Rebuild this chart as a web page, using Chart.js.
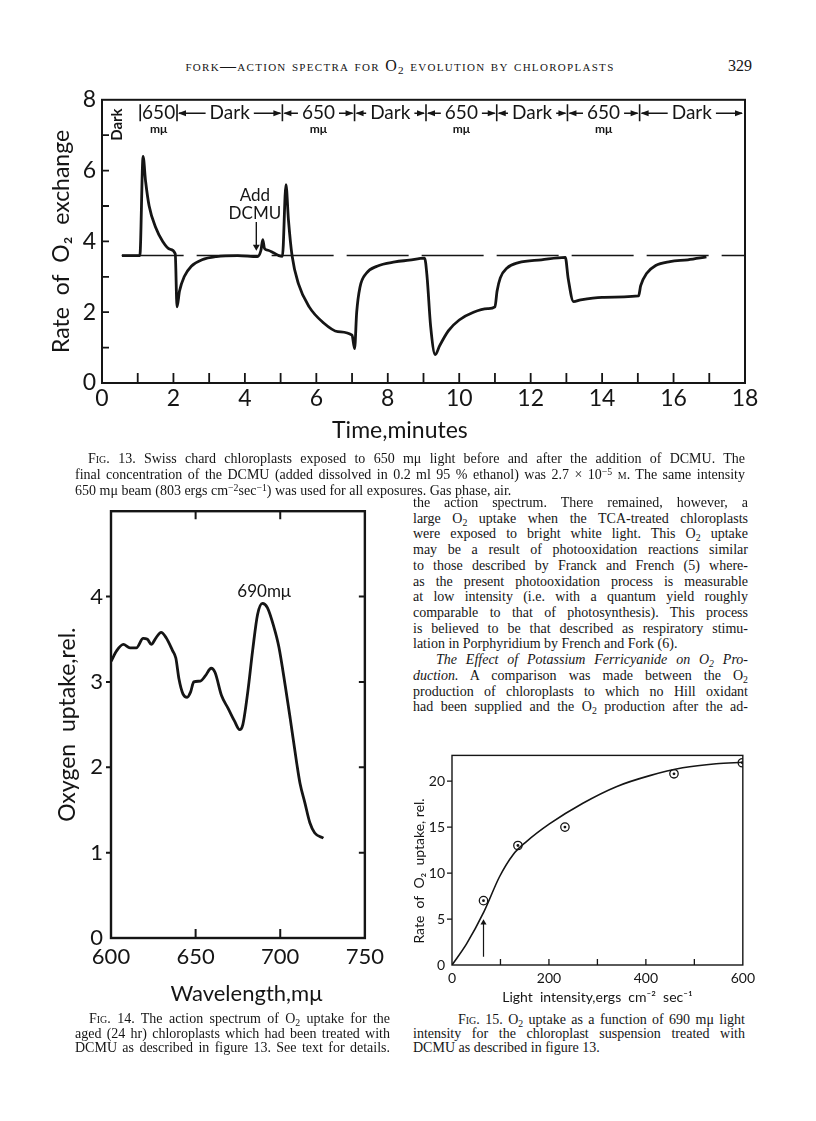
<!DOCTYPE html>
<html>
<head>
<meta charset="utf-8">
<script src="https://cdn.jsdelivr.net/npm/chart.js@4.4.1/dist/chart.umd.min.js"></script>
<style>
  body { margin: 0; background: #fff; }
  #page { position: relative; width: 816px; height: 1121px; overflow: hidden; color: #151515; }
  canvas { position: absolute; }
  .t { position: absolute; font-family: "Liberation Serif", "DejaVu Serif", serif; font-size: 14px; line-height: 16px; white-space: nowrap; }
  .j { text-align: justify; text-align-last: justify; white-space: normal; }
  .sc { font-variant: small-caps; }
  sub { font-size: 70%; vertical-align: -0.3em; line-height: 0; }
  sup { font-size: 70%; vertical-align: 0.45em; line-height: 0; }
</style>
</head>
<body>
<div id="page">
  <div class="t sc" style="left:100px;width:600px;top:58px;text-align:center;font-size:16px;letter-spacing:1.3px;">fork—action spectra for O<sub>2</sub> evolution by chloroplasts</div>
  <div class="t" style="left:700px;width:52px;top:58px;text-align:right;font-size:16px;">329</div>

  <canvas id="fig13" width="745" height="375" style="left:30px;top:80px;"></canvas>

  <div class="t j" style="left:88px;width:657px;top:451px;"><span class="sc">Fig.</span> 13. Swiss chard chloroplasts exposed to 650 mμ light before and after the addition of DCMU. The</div>
  <div class="t j" style="left:75px;width:670px;top:467px;">final concentration of the DCMU (added dissolved in 0.2 ml 95 % ethanol) was 2.7 × 10<sup>−5</sup> <span class="sc">m</span>. The same intensity</div>
  <div class="t" style="left:75px;top:483px;">650 mμ beam (803 ergs cm<sup>−2</sup>sec<sup>−1</sup>) was used for all exposures. Gas phase, air.</div>

  <canvas id="fig14" width="350" height="520" style="left:40px;top:490px;"></canvas>

  <div class="t j" style="left:89px;width:301px;top:1011px;"><span class="sc">Fig.</span> 14. The action spectrum of O<sub>2</sub> uptake for the</div>
  <div class="t j" style="left:75px;width:315px;top:1026px;">aged (24 hr) chloroplasts which had been treated with</div>
  <div class="t j" style="left:75px;width:315px;top:1040px;">DCMU as described in figure 13. See text for details.</div>

  <div class="t j" style="left:413px;width:335px;top:495px;">the action spectrum. There remained, however, a</div>
  <div class="t j" style="left:413px;width:335px;top:511px;">large O<sub>2</sub> uptake when the TCA-treated chloroplasts</div>
  <div class="t j" style="left:413px;width:335px;top:526px;">were exposed to bright white light. This O<sub>2</sub> uptake</div>
  <div class="t j" style="left:413px;width:335px;top:542px;">may be a result of photooxidation reactions similar</div>
  <div class="t j" style="left:413px;width:335px;top:558px;">to those described by Franck and French (5) where-</div>
  <div class="t j" style="left:413px;width:335px;top:574px;">as the present photooxidation process is measurable</div>
  <div class="t j" style="left:413px;width:335px;top:589px;">at low intensity (i.e. with a quantum yield roughly</div>
  <div class="t j" style="left:413px;width:335px;top:605px;">comparable to that of photosynthesis). This process</div>
  <div class="t j" style="left:413px;width:335px;top:621px;">is believed to be that described as respiratory stimu-</div>
  <div class="t" style="left:413px;top:636px;">lation in Porphyridium by French and Fork (6).</div>
  <div class="t j" style="left:436px;width:312px;top:652px;font-style:italic;">The Effect of Potassium Ferricyanide on O<sub>2</sub> Pro-</div>
  <div class="t j" style="left:413px;width:335px;top:668px;"><i>duction.</i> A comparison was made between the O<sub>2</sub></div>
  <div class="t j" style="left:413px;width:335px;top:684px;">production of chloroplasts to which no Hill oxidant</div>
  <div class="t j" style="left:413px;width:335px;top:699px;">had been supplied and the O<sub>2</sub> production after the ad-</div>

  <canvas id="fig15" width="355" height="270" style="left:405px;top:740px;"></canvas>

  <div class="t j" style="left:458px;width:287px;top:1012px;"><span class="sc">Fig.</span> 15. O<sub>2</sub> uptake as a function of 690 mμ light</div>
  <div class="t j" style="left:413px;width:332px;top:1026px;">intensity for the chloroplast suspension treated with</div>
  <div class="t" style="left:413px;top:1040px;">DCMU as described in figure 13.</div>
</div>

<script>
// ---- Fig. 13 : rate of O2 exchange vs time ----
const fig13Time = [0.56, 1.06, 1.15, 1.22, 1.32, 1.5, 1.7, 1.9, 2.05,
  2.1, 2.17, 2.3, 2.5, 2.8, 3.2, 3.8, 4.35,
  4.45, 4.5, 4.55, 4.65, 4.8, 4.95, 5.05,
  5.15, 5.22, 5.32, 5.5, 5.8, 6.2, 6.6, 7.0,
  7.07, 7.13, 7.22, 7.4, 7.7, 8.2, 8.6, 9.03,
  9.1, 9.2, 9.33, 9.45, 9.7, 10.0, 10.4, 10.8, 11.0,
  11.06, 11.15, 11.34, 11.66, 12.3, 12.97,
  13.05, 13.2, 13.4, 14.0, 15.02,
  15.08, 15.25, 15.5, 15.9, 16.4, 16.92];
const fig13Rate = [3.6, 3.6, 6.4, 5.7, 5.0, 4.4, 4.0, 3.78, 3.65,
  2.15, 2.6, 3.0, 3.3, 3.48, 3.57, 3.6, 3.57,
  3.75, 4.05, 3.8, 3.75, 3.68, 3.6, 3.58,
  5.6, 4.6, 3.6, 2.8, 2.15, 1.7, 1.45, 1.35,
  0.97, 2.0, 2.7, 3.1, 3.3, 3.42, 3.47, 3.53,
  3.0, 1.6, 0.8, 1.05, 1.48, 1.78, 2.0, 2.1, 2.15,
  2.6, 2.97, 3.25, 3.4, 3.48, 3.55,
  2.95, 2.3, 2.35, 2.42, 2.46,
  2.75, 3.1, 3.32, 3.43, 3.48, 3.56];
const fig13Baseline = 3.6;
const fig13Switches = [1.07, 2.1, 5.05, 7.07, 9.07, 11.05, 13.03, 15.05];
const fig13Labels = ['650', 'Dark', '650', 'Dark', '650', 'Dark', '650', 'Dark'];
const fig13DcmuTime = 4.32;

// ---- Fig. 14 : action spectrum ----
const fig14Wave = [600, 603.5, 607.3, 611.2, 615, 619, 621.5, 623.8, 626.7, 629.6, 632.5, 636.3, 638.3,
  640.2, 642.5, 645, 647, 648.9, 652.8, 655.7, 659.2, 661.5, 665.3, 669.2, 673, 676, 677.9,
  680.8, 683.7, 686.6, 689.5, 692.4, 696.3, 699.2, 703, 705.9, 709.8, 711.7, 714.6, 717.5, 720.4, 725.5];
const fig14Uptake = [3.24, 3.37, 3.44, 3.40, 3.40, 3.51, 3.50, 3.44, 3.52, 3.58, 3.52, 3.37, 3.28,
  3.03, 2.86, 2.82, 2.88, 3.0, 3.01, 3.07, 3.16, 3.11, 2.84, 2.69, 2.54, 2.44, 2.50,
  2.88, 3.37, 3.79, 3.92, 3.87, 3.64, 3.41, 2.95, 2.57, 2.04, 1.81, 1.58, 1.35, 1.23, 1.17];

// ---- Fig. 15 : O2 uptake vs light intensity ----
const fig15CurveX = [0, 30, 66, 98, 126, 153, 201, 270, 339, 408, 476, 545, 600];
const fig15CurveY = [0, 2.3, 5.8, 9.6, 12.0, 13.4, 15.35, 17.6, 19.4, 20.6, 21.45, 21.9, 22.05];
const fig15PointX = [65, 136, 233, 458, 599];
const fig15PointY = [7.0, 13.0, 15.0, 20.8, 22.0];
const fig15ArrowX = 65;

const INK = '#151515';
const SANS = 'Lato, "DejaVu Sans", sans-serif';
const toXY = (xs, ys) => xs.map((x, i) => ({ x: x, y: ys[i] }));

// box round the plot area, with tick marks drawn at the scale's tick values
const framePlugin = {
  id: 'frame',
  afterDatasetsDraw(chart, args, opts) {
    const { ctx, chartArea: a, scales } = chart;
    ctx.save();
    ctx.strokeStyle = INK;
    ctx.lineWidth = opts.width;
    ctx.strokeRect(a.left, a.top, a.right - a.left, a.bottom - a.top);
    ctx.lineWidth = opts.tickWidth;
    ctx.beginPath();
    for (const side of Object.keys(opts.sides || {})) {
      const s = opts.sides[side];
      const horiz = side === 'top' || side === 'bottom';
      const scale = horiz ? scales.x : scales.y;
      const vals = scale.ticks.map(t => t.value).filter(v => v > scale.min && v < scale.max);
      for (const v of vals) {
        const p = scale.getPixelForValue(v);
        const d = s.inward ? s.len : -s.len;
        if (side === 'bottom') { ctx.moveTo(p, a.bottom); ctx.lineTo(p, a.bottom - d); }
        if (side === 'top') { ctx.moveTo(p, a.top); ctx.lineTo(p, a.top + d); }
        if (side === 'left') { ctx.moveTo(a.left, p); ctx.lineTo(a.left + d, p); }
        if (side === 'right') { ctx.moveTo(a.right, p); ctx.lineTo(a.right - d, p); }
      }
    }
    ctx.stroke();
    ctx.restore();
  }
};

function arrowHead(ctx, x, y, dir) {
  ctx.beginPath();
  ctx.moveTo(x, y);
  ctx.lineTo(x - dir * 8, y - 3);
  ctx.lineTo(x - dir * 8, y + 3);
  ctx.closePath();
  ctx.fill();
}

const fig13Notes = {
  id: 'fig13Notes',
  afterDraw(chart) {
    const { ctx, scales: { x, y }, chartArea: a } = chart;
    const ty = y.getPixelForValue(7.62);
    ctx.save();
    ctx.fillStyle = INK;
    ctx.strokeStyle = INK;
    ctx.textBaseline = 'middle';
    ctx.textAlign = 'center';
    // rotated "Dark" before the first exposure
    ctx.save();
    ctx.translate(x.getPixelForValue(0.42), y.getPixelForValue(7.3));
    ctx.rotate(-Math.PI / 2);
    ctx.font = 'bold 15px ' + SANS;
    ctx.fillText('Dark', 0, 0);
    ctx.restore();
    // period bars
    ctx.lineWidth = 1.6;
    ctx.beginPath();
    for (const t of fig13Switches) {
      const px = x.getPixelForValue(t);
      ctx.moveTo(px, ty - 9); ctx.lineTo(px, ty + 8);
    }
    ctx.stroke();
    ctx.lineWidth = 1.3;
    for (let i = 0; i < fig13Labels.length; i++) {
      const x0 = x.getPixelForValue(fig13Switches[i]);
      const x1 = i + 1 < fig13Switches.length ? x.getPixelForValue(fig13Switches[i + 1]) : a.right - 1;
      const cx = (x0 + x1) / 2;
      ctx.font = '19px ' + SANS;
      ctx.fillText(fig13Labels[i], cx, ty);
      const w = ctx.measureText(fig13Labels[i]).width;
      if (fig13Labels[i] === '650') {
        ctx.font = 'bold 12px ' + SANS;
        ctx.fillText('mμ', cx, ty + 16);
      }
      if (i === 0) continue;
      ctx.beginPath();
      ctx.moveTo(cx - w / 2 - 4, ty); ctx.lineTo(x0 + 2, ty);
      ctx.moveTo(cx + w / 2 + 4, ty); ctx.lineTo(x1 - 2, ty);
      ctx.stroke();
      arrowHead(ctx, x0 + 1, ty, -1);
      arrowHead(ctx, x1 - 1, ty, 1);
    }
    // DCMU label
    ctx.font = '17px ' + SANS;
    ctx.fillText('Add', x.getPixelForValue(fig13DcmuTime - 0.04), y.getPixelForValue(5.3));
    ctx.fillText('DCMU', x.getPixelForValue(fig13DcmuTime - 0.04), y.getPixelForValue(4.8));
    ctx.restore();
  }
};

const fig14Notes = {
  id: 'fig14Notes',
  afterDraw(chart) {
    const { ctx, scales: { x, y } } = chart;
    ctx.save();
    ctx.fillStyle = INK;
    ctx.textAlign = 'center';
    ctx.textBaseline = 'middle';
    ctx.font = '17px ' + SANS;
    ctx.fillText('690mμ', x.getPixelForValue(690.5), y.getPixelForValue(4.06));
    ctx.restore();
  }
};

function baseOptions(pad) {
  return {
    responsive: false,
    animation: false,
    events: [],
    layout: { padding: pad },
    plugins: { legend: { display: false }, tooltip: { enabled: false } }
  };
}

function axis(min, max, step, fontSize, fit, label, titleSize, titlePad, tickPad, cb) {
  return {
    type: 'linear', min: min, max: max,
    grid: { display: false, drawTicks: false }, border: { display: false },
    ticks: { stepSize: step, autoSkip: false, maxRotation: 0, includeBounds: false, padding: tickPad,
             color: INK, font: { family: SANS, size: fontSize }, callback: cb },
    title: { display: true, text: label, color: INK, padding: titlePad,
             font: { family: SANS, size: titleSize } },
    afterFit: fit
  };
}

// Fig. 13
const opt13 = baseOptions({ left: 0, right: 30, top: 16, bottom: 0 });
opt13.plugins.frame = { width: 2, tickWidth: 1.8, sides: { bottom: { len: 10, inward: true }, left: { len: 7, inward: true } } };
opt13.scales = {
  x: axis(0, 18, 1, 23, s => { s.height = 72; }, 'Time,minutes        ', 23, { bottom: 11 }, 2,
          v => (v % 2 === 0 ? String(v) : '')),
  y: axis(0, 8, 1, 23, s => { s.width = 72; }, 'Rate  of  O₂  exchange', 23, { top: 18 }, 6,
          v => (v % 2 === 0 ? String(v) : ''))
};
new Chart(document.getElementById('fig13'), {
  type: 'scatter',
  data: {
    datasets: [
      { data: toXY(fig13Time, fig13Rate), showLine: true, borderColor: INK, borderWidth: 2.8,
        pointRadius: 0, cubicInterpolationMode: 'monotone' },
      { data: [{ x: 0.55, y: fig13Baseline }, { x: 18, y: fig13Baseline }], showLine: true,
        borderColor: INK, borderWidth: 1.6, borderDash: [62, 13], pointRadius: 0 },
      { data: [{ x: fig13DcmuTime, y: 4.55 }, { x: fig13DcmuTime, y: 3.85 }], showLine: true,
        borderColor: INK, borderWidth: 1.4, backgroundColor: INK, pointBorderWidth: 0,
        pointRadius: [0, 4], pointStyle: 'triangle', pointRotation: 180 }
    ]
  },
  options: opt13,
  plugins: [framePlugin, fig13Notes]
});

// Fig. 14
const opt14 = baseOptions({ left: 0, right: 20, top: 10, bottom: 0 });
opt14.plugins.frame = { width: 2.4, tickWidth: 2, sides: {
  bottom: { len: 9, inward: true }, top: { len: 8, inward: true },
  left: { len: 5, inward: false }, right: { len: 6, inward: true } } };
opt14.scales = {
  x: axis(600, 750, 50, 22, s => { s.height = 72; }, '   Wavelength,mμ', 22, { bottom: 3 }, 6,
          v => String(v)),
  y: axis(0, 5, 1, 22, s => { s.width = 71; }, 'Oxygen  uptake,rel.', 23, { top: 14 }, 8,
          v => (v === 5 ? '' : String(v)))
};
new Chart(document.getElementById('fig14'), {
  type: 'scatter',
  data: {
    datasets: [
      { data: toXY(fig14Wave, fig14Uptake), showLine: true, borderColor: INK, borderWidth: 2.8,
        pointRadius: 0, cubicInterpolationMode: 'monotone' }
    ]
  },
  options: opt14,
  plugins: [framePlugin, fig14Notes]
});

// Fig. 15
const opt15 = baseOptions({ left: 0, right: 17, top: 7, bottom: 0 });
opt15.plugins.frame = { width: 1.4, tickWidth: 1.3, sides: {
  bottom: { len: 6, inward: true }, left: { len: 5, inward: false } } };
opt15.scales = {
  x: axis(0, 600, 100, 14, s => { s.height = 45; }, 'Light  intensity,ergs  cm⁻²  sec⁻¹', 14, { bottom: 4 }, 5,
          v => (v % 200 === 0 ? String(v) : '')),
  y: axis(0, 22.8, 5, 14, s => { s.width = 47; }, 'Rate  of  O₂  uptake, rel.      ', 14, { top: 6 }, 7,
          v => String(v))
};
new Chart(document.getElementById('fig15'), {
  type: 'scatter',
  data: {
    datasets: [
      { data: toXY(fig15CurveX, fig15CurveY), showLine: true, borderColor: INK, borderWidth: 1.6,
        pointRadius: 0, cubicInterpolationMode: 'monotone' },
      { data: toXY(fig15PointX, fig15PointY), pointRadius: 1.4, pointBorderWidth: 0,
        backgroundColor: INK, pointStyle: 'circle' },
      { data: toXY(fig15PointX, fig15PointY), pointRadius: 4.2, pointBorderWidth: 1.3,
        borderColor: INK, backgroundColor: '#fff', pointStyle: 'circle' },
      { data: [{ x: fig15ArrowX, y: 0.9 }, { x: fig15ArrowX, y: 4.6 }], showLine: true,
        borderColor: INK, borderWidth: 1.2, backgroundColor: INK, pointBorderWidth: 0,
        pointRadius: [0, 3.5], pointStyle: 'triangle' }
    ]
  },
  options: opt15,
  plugins: [framePlugin]
});
</script>
</body>
</html>
